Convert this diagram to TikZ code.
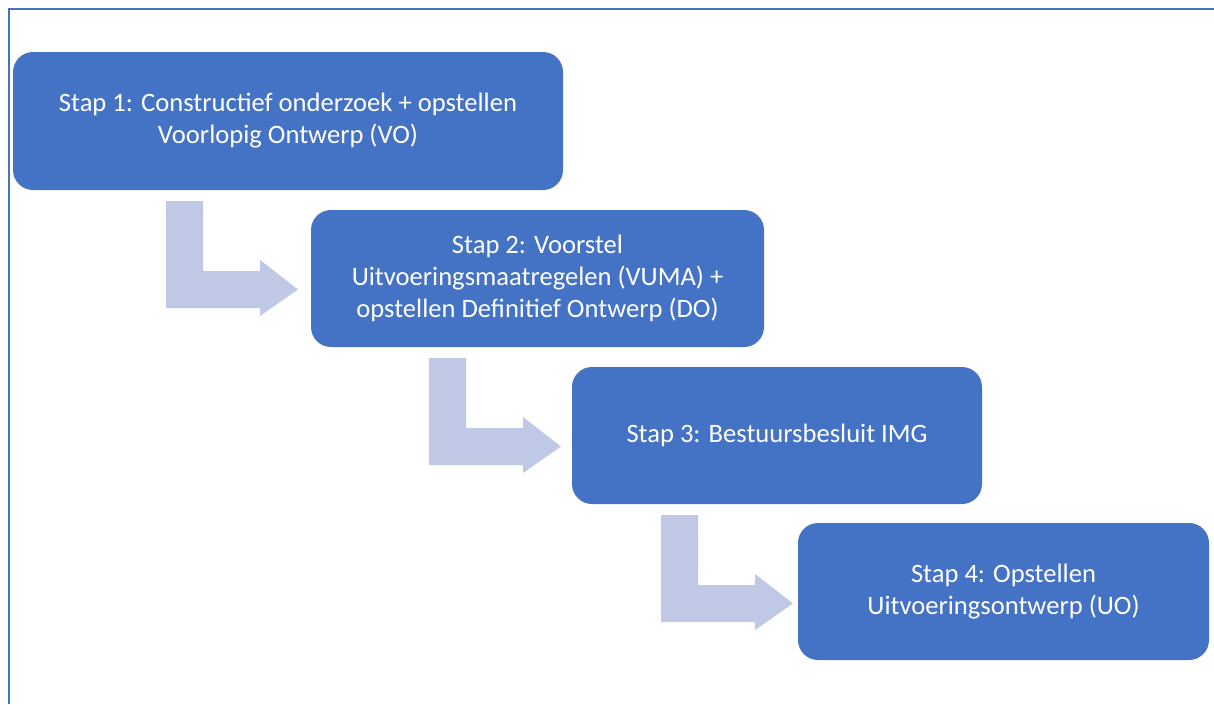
\documentclass[tikz,border=0pt]{standalone}
\usepackage{fontspec}
\setmainfont{Carlito}
\definecolor{stapblue}{HTML}{4472C4}
\definecolor{pijlblue}{HTML}{BFC9E5}
\tikzset{
  stap/.style={rectangle, rounded corners=20pt, fill=stapblue, draw=none,
    text=white, align=center, inner sep=0pt,
    font=\fontsize{26.6}{32}\selectfont},
  pics/bendarrow/.style={code={
    \fill[pijlblue] (0,0) -- (37,0) -- (37,70) -- (94,70) -- (94,59)
      -- (132,88.5) -- (94,115) -- (94,107) -- (0,107) -- cycle;
  }}
}
\begin{document}
\begin{tikzpicture}[x=1pt, y=-1pt]
			\useasboundingbox (0,0) rectangle (1214,704);
			% frame
			\draw[stapblue, line width=2.5pt] (9,704) -- (9,9) -- (1214,9);
			% stappen
			\node[stap, minimum width=550pt, minimum height=138pt] (stap1) at (288,121)
			  {Stap 1: Constructief onderzoek + opstellen\\Voorlopig Ontwerp (VO)};
			\node[stap, minimum width=453pt, minimum height=137pt] (stap2) at (537.5,278.5)
			  {Stap 2: Voorstel\\Uitvoeringsmaatregelen (VUMA) +\\opstellen Definitief Ontwerp (DO)};
			\node[stap, minimum width=410pt, minimum height=137pt] (stap3) at (777,435.5)
			  {Stap 3: Bestuursbesluit IMG};
			\node[stap, minimum width=411pt, minimum height=137pt] (stap4) at (1003.5,591.5)
			  {Stap 4: Opstellen\\Uitvoeringsontwerp (UO)};
			% pijlen
			\pic at (166,201) {bendarrow};
			\pic at (429,358) {bendarrow};
			\pic at (661,515) {bendarrow};
\end{tikzpicture}
\end{document}
